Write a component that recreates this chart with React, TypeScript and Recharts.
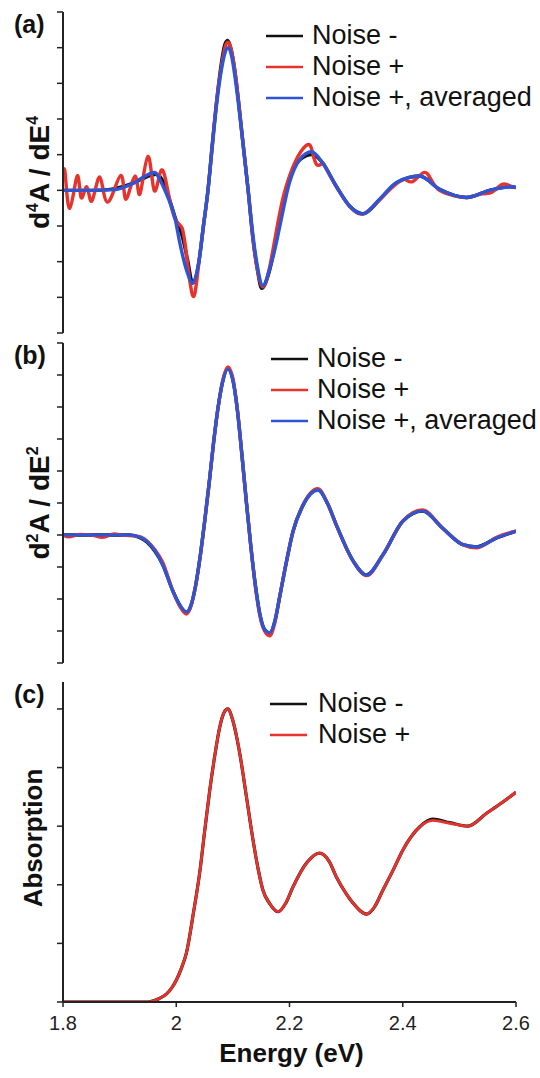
import { LineChart, Line, XAxis, YAxis, Legend, Label } from 'recharts';

type Pt = { e: number; v: number };
const pts = (rows: number[][]): Pt[] => rows.map(([e, v]) => ({ e, v }));

const energyTicks = [1.8, 2, 2.2, 2.4, 2.6];
const ticksA = [-4, -3, -2, -1, 0, 1, 2, 3, 4, 5];
const ticksB = [-4, -3, -2, -1, 0, 1, 2, 3, 4, 5, 6];
const ticksC = [0, 1, 2, 3, 4, 5];

// (a) fourth derivative
const aNoiseMinus = pts([
  [1.8, 0], [1.85, 0], [1.88, 0.02], [1.9, 0.08], [1.92, 0.18], [1.94, 0.32], [1.955, 0.42],
  [1.965, 0.45], [1.975, 0.3], [1.99, -0.35], [2.0, -0.85], [2.01, -1.25], [2.02, -1.95],
  [2.029, -2.6], [2.04, -2.0], [2.048, -1.0], [2.056, 0], [2.064, 1.35], [2.072, 2.6],
  [2.08, 3.6], [2.086, 4.1], [2.091, 4.2], [2.097, 3.95], [2.104, 3.3], [2.11, 2.5], [2.118, 1.3], [2.127, 0],
  [2.135, -1.3], [2.143, -2.2], [2.151, -2.75], [2.163, -2.35], [2.175, -1.5], [2.186, -0.5],
  [2.2, 0.35], [2.218, 0.85], [2.24, 1.0], [2.258, 0.78], [2.283, 0.1], [2.306, -0.44],
  [2.33, -0.66], [2.36, -0.25], [2.39, 0.22], [2.43, 0.4], [2.465, 0.03], [2.513, -0.2],
  [2.553, 0], [2.59, 0.1], [2.6, 0.08],
]);
const aNoisePlus = pts([
  [1.8, 0.42], [1.804, 0.45], [1.812, -0.5], [1.825, 0.4], [1.832, -0.2], [1.842, 0.1],
  [1.851, -0.3], [1.865, 0.37], [1.879, -0.33], [1.902, 0.42], [1.911, -0.25], [1.927, 0.4],
  [1.936, -0.1], [1.95, 0.95], [1.961, 0.0], [1.973, 0.55], [1.985, 0.0], [1.998, -0.8],
  [2.01, -1.05], [2.018, -1.8], [2.029, -2.95], [2.038, -2.3], [2.048, -1.0], [2.056, 0],
  [2.064, 1.3], [2.072, 2.6], [2.08, 3.5], [2.086, 4.0], [2.091, 4.15], [2.097, 3.95], [2.104, 3.3],
  [2.11, 2.5], [2.118, 1.3], [2.127, 0], [2.135, -1.3], [2.143, -2.2], [2.152, -2.7],
  [2.163, -2.3], [2.175, -1.3], [2.188, -0.25], [2.2, 0.4], [2.215, 0.95], [2.232, 1.28],
  [2.24, 1.1], [2.248, 0.72], [2.258, 0.75], [2.265, 0.6], [2.283, 0.1], [2.306, -0.44],
  [2.33, -0.66], [2.36, -0.25], [2.39, 0.2], [2.405, 0.3], [2.418, 0.25], [2.437, 0.5],
  [2.45, 0.3], [2.465, 0.0], [2.49, -0.15], [2.513, -0.2], [2.54, -0.1], [2.558, -0.05],
  [2.576, 0.17], [2.59, 0.12], [2.6, 0.08],
]);
const aAveraged = pts([
  [1.8, 0], [1.85, 0], [1.892, 0.02], [1.91, 0.1], [1.93, 0.25], [1.945, 0.4], [1.962, 0.5],
  [1.971, 0.3], [1.98, 0.0], [1.989, -0.35], [1.998, -0.8], [2.006, -1.45], [2.019, -2.28],
  [2.028, -2.6], [2.04, -2.0], [2.048, -1.0], [2.056, 0], [2.064, 1.3], [2.072, 2.5],
  [2.08, 3.4], [2.086, 3.85], [2.092, 4.0], [2.098, 3.75], [2.104, 3.15], [2.11, 2.4], [2.118, 1.3], [2.127, 0],
  [2.135, -1.2], [2.143, -2.1], [2.153, -2.67], [2.165, -2.2], [2.175, -1.6], [2.183, -1.0],
  [2.2, 0.22], [2.218, 0.86], [2.239, 1.08], [2.258, 0.78], [2.283, 0.11], [2.306, -0.44],
  [2.329, -0.66], [2.359, -0.25], [2.389, 0.22], [2.43, 0.4], [2.465, 0.03], [2.513, -0.2],
  [2.553, 0], [2.594, 0.1], [2.6, 0.08],
]);

// (b) second derivative
const bNoiseMinus = pts([
  [1.8, 0], [1.88, 0], [1.918, 0], [1.935, -0.08], [1.948, -0.22], [1.962, -0.5],
  [1.976, -0.92], [1.994, -1.75], [2.007, -2.22], [2.018, -2.42], [2.026, -2.2], [2.034, -1.6],
  [2.042, -0.7], [2.05, 0.4], [2.058, 1.6], [2.066, 2.9], [2.074, 4.0], [2.082, 4.8],
  [2.091, 5.2], [2.1, 4.85], [2.108, 3.9], [2.116, 2.5], [2.124, 1.0], [2.132, -0.4],
  [2.14, -1.6], [2.148, -2.5], [2.156, -2.95], [2.165, -3.07], [2.174, -2.7], [2.183, -1.9],
  [2.195, -0.8], [2.206, 0.1], [2.224, 0.93], [2.25, 1.42], [2.268, 0.95], [2.283, 0.3],
  [2.312, -0.8], [2.336, -1.25], [2.365, -0.62], [2.4, 0.43], [2.435, 0.75], [2.47, 0.22],
  [2.506, -0.3], [2.53, -0.37], [2.566, -0.09], [2.6, 0.12],
]);
const bNoisePlus = pts([
  [1.8, 0], [1.81, -0.06], [1.83, 0.02], [1.85, 0.0], [1.87, -0.07], [1.89, 0.03],
  [1.905, 0.0], [1.918, -0.02], [1.935, -0.05], [1.948, -0.18], [1.962, -0.45],
  [1.976, -0.85], [1.994, -1.75], [2.007, -2.25], [2.018, -2.47], [2.026, -2.22], [2.034, -1.6],
  [2.042, -0.7], [2.05, 0.4], [2.058, 1.6], [2.066, 2.9], [2.074, 4.0], [2.082, 4.82],
  [2.091, 5.25], [2.1, 4.9], [2.108, 3.9], [2.116, 2.5], [2.124, 1.0], [2.132, -0.4],
  [2.14, -1.65], [2.148, -2.55], [2.156, -3.0], [2.165, -3.15], [2.174, -2.75], [2.183, -1.9],
  [2.195, -0.8], [2.206, 0.1], [2.224, 0.95], [2.25, 1.45], [2.268, 0.95], [2.283, 0.3],
  [2.312, -0.8], [2.336, -1.27], [2.365, -0.62], [2.4, 0.43], [2.435, 0.78], [2.47, 0.22],
  [2.506, -0.3], [2.53, -0.4], [2.566, -0.07], [2.585, 0.05], [2.6, 0.12],
]);
const bAveraged = pts([
  [1.8, 0], [1.88, 0], [1.918, 0], [1.935, -0.06], [1.948, -0.2], [1.962, -0.48],
  [1.976, -0.93], [1.994, -1.75], [2.007, -2.2], [2.018, -2.4], [2.026, -2.2], [2.034, -1.6],
  [2.042, -0.7], [2.05, 0.4], [2.058, 1.6], [2.066, 2.9], [2.074, 4.0], [2.082, 4.78],
  [2.091, 5.18], [2.1, 4.83], [2.108, 3.9], [2.116, 2.5], [2.124, 1.0], [2.132, -0.4],
  [2.14, -1.6], [2.148, -2.5], [2.156, -2.95], [2.165, -3.05], [2.174, -2.7], [2.183, -1.9],
  [2.195, -0.8], [2.206, 0.1], [2.224, 0.93], [2.25, 1.4], [2.268, 0.95], [2.283, 0.3],
  [2.312, -0.8], [2.336, -1.25], [2.365, -0.62], [2.4, 0.43], [2.435, 0.75], [2.47, 0.22],
  [2.506, -0.3], [2.53, -0.37], [2.566, -0.09], [2.6, 0.12],
]);

// (c) absorption
const cNoiseMinus = pts([
  [1.8, 0], [1.9, 0], [1.95, 0], [1.96, 0.02], [1.97, 0.06], [1.983, 0.14], [1.992, 0.24],
  [2.0, 0.37], [2.01, 0.6], [2.018, 0.84], [2.03, 1.5], [2.042, 2.25], [2.05, 2.9],
  [2.059, 3.6], [2.068, 4.2], [2.077, 4.7], [2.085, 4.95], [2.091, 5.0], [2.1, 4.8],
  [2.112, 4.25], [2.124, 3.5], [2.135, 2.8], [2.145, 2.25], [2.153, 1.91], [2.165, 1.68],
  [2.18, 1.54], [2.193, 1.68], [2.206, 1.96], [2.23, 2.37], [2.253, 2.54], [2.27, 2.4],
  [2.283, 2.13], [2.3, 1.85], [2.312, 1.69], [2.336, 1.5], [2.35, 1.62], [2.365, 1.91],
  [2.383, 2.25], [2.4, 2.59], [2.43, 2.99], [2.453, 3.12], [2.483, 3.06], [2.515, 3.0],
  [2.548, 3.22], [2.575, 3.4], [2.6, 3.58],
]);
const cNoisePlus = pts([
  [1.8, 0], [1.9, 0], [1.95, 0], [1.96, 0.02], [1.97, 0.06], [1.983, 0.14], [1.992, 0.24],
  [2.0, 0.37], [2.01, 0.6], [2.018, 0.84], [2.03, 1.5], [2.042, 2.25], [2.05, 2.9],
  [2.059, 3.6], [2.068, 4.2], [2.077, 4.7], [2.085, 4.95], [2.091, 5.0], [2.1, 4.8],
  [2.112, 4.25], [2.124, 3.5], [2.135, 2.8], [2.145, 2.25], [2.153, 1.91], [2.165, 1.68],
  [2.18, 1.54], [2.193, 1.68], [2.206, 1.96], [2.23, 2.37], [2.253, 2.54], [2.27, 2.4],
  [2.283, 2.13], [2.3, 1.85], [2.312, 1.69], [2.336, 1.5], [2.35, 1.62], [2.365, 1.91],
  [2.383, 2.25], [2.4, 2.59], [2.43, 2.99], [2.453, 3.1], [2.483, 3.05], [2.515, 3.0],
  [2.548, 3.22], [2.575, 3.4], [2.6, 3.58],
]);

const BLACK = '#111111';
const RED = '#e5342e';
const BLUE = '#2f55d4';
const AXIS = '#222222';
const FONT = '"Liberation Sans", Arial, sans-serif';

const names3 = ['Noise -', 'Noise +', 'Noise +, averaged'];
const colors3 = [BLACK, RED, BLUE];

const LegendBox = ({ items, colors, gap }: { items: string[]; colors: string[]; gap: number }) => (
  <div style={{ fontFamily: FONT, fontSize: 27, color: '#111', textAlign: 'left' }}>
    {items.map((name, i) => (
      <div key={name} style={{ display: 'flex', alignItems: 'center', height: 31, whiteSpace: 'nowrap' }}>
        <svg width={37} height={4} style={{ marginRight: gap }}>
          <line x1={0} y1={2} x2={37} y2={2} stroke={colors[i]} strokeWidth={2.5} />
        </svg>
        <span>{name}</span>
      </div>
    ))}
  </div>
);

const NoTick = () => <g />;

const YTitle = ({ viewBox, tag, base, sup, baseX, size, shiftY = 0 }: any) => {
  const cx = viewBox.x + baseX;
  const cy = viewBox.y + viewBox.height / 2 + shiftY;
  return (
    <g>
      <text x={14} y={viewBox.y + 21} fontFamily={FONT} fontWeight="bold" fontSize={25} fill="#111">
        {tag}
      </text>
      <text
        x={cx}
        y={cy}
        transform={`rotate(-90, ${cx}, ${cy})`}
        textAnchor="middle"
        fontFamily={FONT}
        fontWeight="bold"
        fontSize={size}
        fill="#111"
      >
        {sup ? (
          <>
            <tspan>d</tspan>
            <tspan dy={-11} fontSize={16}>{sup}</tspan>
            <tspan dy={11}>A / dE</tspan>
            <tspan dy={-11} fontSize={16}>{sup}</tspan>
          </>
        ) : (
          base
        )}
      </text>
    </g>
  );
};

const XTitle = ({ viewBox }: any) => (
  <text
    x={viewBox.x + viewBox.width / 2 + 2}
    y={viewBox.y + 60}
    textAnchor="middle"
    fontFamily={FONT}
    fontWeight="bold"
    fontSize={26}
    fill="#111"
  >
    Energy (eV)
  </text>
);

const axisLine = { stroke: AXIS, strokeWidth: 2 };
const tickLine = { stroke: AXIS, strokeWidth: 1.5 };

const App = () => {
  return (
    <div style={{ position: 'fixed', left: 0, top: 0, width: 540, height: 1078, background: '#fff' }}>
      {/* (a) */}
      <div style={{ position: 'absolute', left: 0, top: 0 }}>
        <LineChart width={540} height={340} margin={{ top: 12, right: 24, bottom: 7, left: 0 }}>
          <XAxis type="number" dataKey="e" domain={[1.8, 2.6]} hide allowDataOverflow />
          <YAxis
            type="number"
            domain={[-4, 5]}
            ticks={ticksA}
            interval={0}
            tick={NoTick}
            tickSize={6}
            width={63}
            axisLine={axisLine}
            tickLine={tickLine}
          >
            <Label content={(p: any) => <YTitle viewBox={p.viewBox} tag="(a)" sup="4" baseX={49} size={28} />} />
          </YAxis>
          <Legend
            layout="horizontal"
            verticalAlign="middle"
            align="center"
            wrapperStyle={{ left: 266, top: 20, width: 274 }}
            content={() => <LegendBox items={names3} colors={colors3} gap={9} />}
          />
          <Line data={aNoiseMinus} dataKey="v" type="monotone" stroke={BLACK} strokeWidth={3.4} dot={false} isAnimationActive={false} />
          <Line data={aNoisePlus} dataKey="v" type="natural" stroke={RED} strokeWidth={3.4} dot={false} isAnimationActive={false} />
          <Line data={aAveraged} dataKey="v" type="monotone" stroke={BLUE} strokeWidth={3.4} dot={false} isAnimationActive={false} />
        </LineChart>
      </div>

      {/* (b) */}
      <div style={{ position: 'absolute', left: 0, top: 331 }}>
        <LineChart width={540} height={340} margin={{ top: 12, right: 24, bottom: 8, left: 0 }}>
          <XAxis type="number" dataKey="e" domain={[1.8, 2.6]} hide allowDataOverflow />
          <YAxis
            type="number"
            domain={[-4, 6]}
            ticks={ticksB}
            interval={0}
            tick={NoTick}
            tickSize={6}
            width={63}
            axisLine={axisLine}
            tickLine={tickLine}
          >
            <Label content={(p: any) => <YTitle viewBox={p.viewBox} tag="(b)" sup="2" baseX={49} size={28} />} />
          </YAxis>
          <Legend
            layout="horizontal"
            verticalAlign="middle"
            align="center"
            wrapperStyle={{ left: 271, top: 12, width: 269 }}
            content={() => <LegendBox items={names3} colors={colors3} gap={9} />}
          />
          <Line data={bNoiseMinus} dataKey="v" type="monotone" stroke={BLACK} strokeWidth={3.4} dot={false} isAnimationActive={false} />
          <Line data={bNoisePlus} dataKey="v" type="monotone" stroke={RED} strokeWidth={3.4} dot={false} isAnimationActive={false} />
          <Line data={bAveraged} dataKey="v" type="monotone" stroke={BLUE} strokeWidth={3.2} dot={false} isAnimationActive={false} />
        </LineChart>
      </div>

      {/* (c) */}
      <div style={{ position: 'absolute', left: 0, top: 670 }}>
        <LineChart width={540} height={408} margin={{ top: 12, right: 24, bottom: 16, left: 0 }}>
          <XAxis
            type="number"
            dataKey="e"
            domain={[1.8, 2.6]}
            ticks={energyTicks}
            interval={0}
            height={60}
            tickSize={5}
            tickMargin={9}
            axisLine={axisLine}
            tickLine={tickLine}
            tick={{ fontSize: 20, fill: '#222', fontFamily: FONT }}
            allowDataOverflow
          >
            <Label content={(p: any) => <XTitle viewBox={p.viewBox} />} />
          </XAxis>
          <YAxis
            type="number"
            domain={[0, 5.46]}
            ticks={ticksC}
            interval={0}
            tick={NoTick}
            tickSize={6}
            width={63}
            axisLine={axisLine}
            tickLine={tickLine}
            allowDataOverflow
          >
            <Label content={(p: any) => <YTitle viewBox={p.viewBox} tag="(c)" base="Absorption" baseX={42} size={26} shiftY={-4} />} />
          </YAxis>
          <Legend
            layout="horizontal"
            verticalAlign="middle"
            align="center"
            wrapperStyle={{ left: 270, top: 18, width: 268 }}
            content={() => <LegendBox items={names3.slice(0, 2)} colors={colors3} gap={11} />}
          />
          <Line data={cNoiseMinus} dataKey="v" type="monotone" stroke={BLACK} strokeWidth={3.2} dot={false} isAnimationActive={false} />
          <Line data={cNoisePlus} dataKey="v" type="monotone" stroke={RED} strokeWidth={2.8} dot={false} isAnimationActive={false} />
        </LineChart>
      </div>
    </div>
  );
};

export default App;
